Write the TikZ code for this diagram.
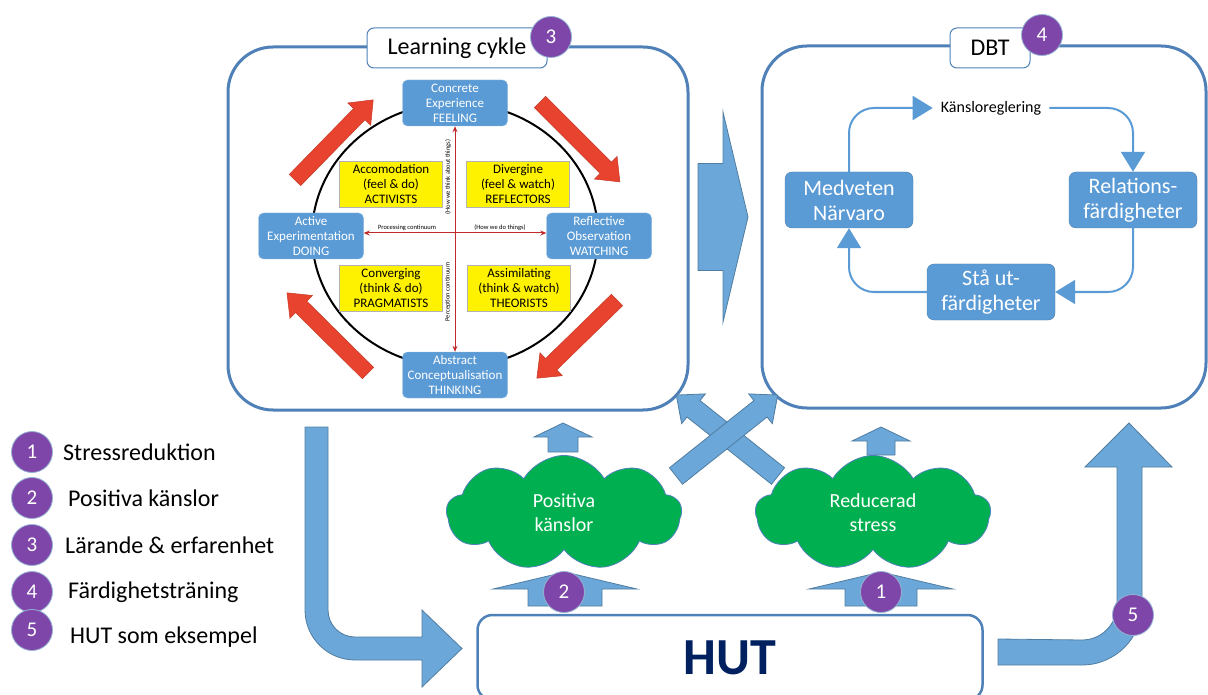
\documentclass[tikz,border=0pt]{standalone}
\usepackage{fontspec}
\setmainfont{Carlito}
\usepackage{xcolor}
\usepackage{tikz}
\usetikzlibrary{arrows.meta, shapes.symbols, positioning}

\definecolor{boxblue}{HTML}{4F81B8}
\definecolor{nodeblue}{HTML}{5B9BD5}
\definecolor{arrowblue}{HTML}{6BA7D8}
\definecolor{lilac}{HTML}{7E46A8}
\definecolor{cloudgreen}{HTML}{00B050}
\definecolor{arrowred}{HTML}{E8432E}
\definecolor{axisred}{HTML}{C0282A}
\definecolor{hutnavy}{HTML}{002060}

% block arrow: style, start, angle, length, shaft half, head half, head length
\newcommand{\barrow}[7]{\draw[#1, shift={#2}, rotate=#3] (0,-#5) -- ({#4-#7},-#5) -- ({#4-#7},-#6) -- (#4,0) -- ({#4-#7},#6) -- ({#4-#7},#5) -- (0,#5) -- cycle;}

\tikzset{
  outerbox/.style={draw=boxblue, line width=3pt, rounded corners=45pt},
  titlebox/.style={draw=boxblue, line width=1pt, fill=white, rounded corners=7pt, minimum height=40pt, font=\fontsize{24}{28}\selectfont},
  badge/.style={circle, fill=lilac, draw=boxblue!60, line width=0.8pt, minimum size=41pt, inner sep=0pt, text=white, font=\fontsize{21}{24}\selectfont},
  kolb/.style={fill=nodeblue, draw=nodeblue!70!white, rounded corners=5pt, minimum width=105pt, minimum height=46pt, inner sep=1pt, align=center, text=white, font=\fontsize{13}{15}\selectfont},
  quad/.style={fill=yellow, draw=gray!60, minimum width=103pt, minimum height=46pt, inner sep=1pt, align=center, font=\fontsize{13}{15}\selectfont},
  axis/.style={draw=axisred, line width=1pt, {Stealth[length=6pt,width=5pt]}-{Stealth[length=6pt,width=5pt]}},
  axlabel/.style={font=\fontsize{6.5}{8}\selectfont, inner sep=1pt},
  dbtbox/.style={fill=nodeblue, draw=nodeblue!80!black, rounded corners=7pt, minimum width=128pt, minimum height=56pt, inner sep=2pt, align=center, text=white, font=\fontsize{22}{25}\selectfont},
  flow/.style={draw=nodeblue, line width=2pt, rounded corners=25pt, -{Triangle[length=20pt,width=24pt]}},
  blockarrow/.style={fill=arrowblue, draw=arrowblue!75!black, line width=0.8pt},
  redarrow/.style={fill=arrowred, draw=arrowred!85!black, line width=0.5pt},
  cloudnode/.style={cloud, cloud puffs=9, cloud puff arc=120, aspect=2.2, fill=cloudgreen, draw=boxblue, line width=0.8pt, text=white, align=center, minimum width=235pt, minimum height=115pt, font=\fontsize{20}{24}\selectfont},
  legend/.style={anchor=west, inner sep=0pt, font=\fontsize{24}{28}\selectfont}
}

\begin{document}
\begin{tikzpicture}[x=1pt, y=-1pt]
\fill[white] (0,0) rectangle (1208,695);
\useasboundingbox (0,0) rectangle (1208,695);

% Learning cycle panel
\begin{scope}
  \node[outerbox, minimum width=460pt, minimum height=363pt] (lcycle) at (458,228.5) {};
  \node[titlebox, minimum width=180pt] (ltitle) at (457,48) {Learning cykle};
  \node[badge] (b3) at (551,37) {3};
  % Circle and red arrows
  \draw[line width=2pt] (455,235) ellipse [x radius=143pt, y radius=132pt];
  \barrow{redarrow}{(295,180)}{45.7}{112}{8}{16}{20}
  \barrow{redarrow}{(540,102)}{-45}{113}{8}{16}{20}
  \barrow{redarrow}{(617,300)}{-135.7}{112}{8}{16}{20}
  \barrow{redarrow}{(368,373)}{135.3}{114}{8}{16}{20}
  % Stages
  \node[kolb] (cexp) at (455,103) {Concrete\\Experience\\FEELING};
  \node[kolb] (robs) at (599,236) {Reflective\\Observation\\WATCHING};
  \node[kolb] (aexp) at (311,236) {Active\\Experimentation\\DOING};
  \node[kolb] (aconc) at (455,375) {Abstract\\Conceptualisation\\THINKING};
  % Learning styles
  \node[quad] (accom) at (391,184) {Accomodation\\(feel \& do)\\ACTIVISTS};
  \node[quad] (diverg) at (518,184) {Divergine\\(feel \& watch)\\REFLECTORS};
  \node[quad] (conv) at (391,288) {Converging\\(think \& do)\\PRAGMATISTS};
  \node[quad] (assim) at (519,288) {Assimilating\\(think \& watch)\\THEORISTS};
  % Continua
  \draw[axis] (cexp.south) -- (aconc.north);
  \draw[axis] ([yshift=3pt]aexp.east) -- ([yshift=3pt]robs.west);
  \node[axlabel] (proc) at (407,228) {Processing continuum};
  \node[axlabel] (howdo) at (500,228) {(How we do things)};
  \node[axlabel, rotate=90] (howthink) at (448,177) {(How we think about things)};
  \node[axlabel, rotate=90] (perc) at (448,292) {Perception continuum};
\end{scope}

% DBT panel
\begin{scope}
  \node[outerbox, minimum width=444pt, minimum height=362pt] (dbt) at (984,227) {};
  \node[titlebox, minimum width=80pt] (dtitle) at (990,48) {DBT};
  \node[badge] (b4) at (1042,35) {4};
  \node[dbtbox] (medv) at (849,200) {Medveten\\Närvaro};
  \node[dbtbox] (rel) at (1133,200) {Relations-\\färdigheter};
  \node[dbtbox] (sta) at (991,292) {Stå ut-\\färdigheter};
  \node[font=\fontsize{16}{18}\selectfont, inner sep=8pt] (kansl) at (991,108) {Känsloreglering};
  \draw[flow] (medv.north) |- (kansl.west);
  \draw[flow] (kansl.east) -| (rel.north);
  \draw[flow] (rel.south) |- (sta.east);
  \draw[flow] (sta.west) -| (medv.south);
\end{scope}

% Block arrows
\barrow{blockarrow}{(698,217)}{0}{50}{53.5}{105}{25}
\barrow{blockarrow}{(563,452)}{90}{29}{15}{29}{14}
\barrow{blockarrow}{(881,455)}{90}{28}{14}{29}{14}
\barrow{blockarrow}{(565,606)}{90}{34}{37}{72}{17}
\barrow{blockarrow}{(881,606)}{90}{34}{36}{72}{17}
% bent arrows
\draw[blockarrow] (305,427) -- (305,610) .. controls (305,637.6) and (327.4,660) .. (355,660)
  -- (422,660) -- (422,687) -- (462,648.5) -- (422,610) -- (422,637) -- (355,637)
  .. controls (340.1,637) and (328,624.9) .. (328,610) -- (328,427) -- cycle;
\draw[blockarrow] (998,639) -- (998,665) -- (1082,665) .. controls (1115.1,665) and (1142,638.1) .. (1142,605)
  -- (1142,467) -- (1172,467) -- (1129,423) -- (1085,467) -- (1117,467) -- (1117,605)
  .. controls (1117,624.3) and (1101.3,640) .. (1082,640) -- cycle;

% Clouds
\node[cloudnode] (pos) at (564,513) {Positiva\\känslor};
\node[cloudnode] (red) at (873,513) {Reducerad\\stress};
% crossing arrows
\barrow{blockarrow}{(778,476)}{141.5}{130}{10.5}{19}{22}
\barrow{blockarrow}{(676,476)}{38.5}{130}{10.5}{19}{22}

% HUT
\node[draw=boxblue, line width=2.5pt, rounded corners=15pt, fill=white, minimum width=505pt, minimum height=85pt,
  text=hutnavy, font=\bfseries\fontsize{52}{60}\selectfont] (hut) at (730,657.5) {HUT};
\node[badge] (b2) at (564,592) {2};
\node[badge] (b1) at (881,592) {1};
\node[badge] (b5) at (1133,615) {5};

% Legend
\foreach \n/\y/\ty/\x/\txt in {1/452/452/63/Stressreduktion, 2/498/498/68/Positiva känslor, 3/545/545/65/Lärande \& erfarenhet,
    4/592/592/68/Färdighetsträning, 5/630/637/70/HUT som eksempel} {
  \node[badge] (leg\n) at (32,\y) {\n};
  \node[legend] (legtxt\n) at (\x,\ty) {\txt};
}
\end{tikzpicture}
\end{document}
